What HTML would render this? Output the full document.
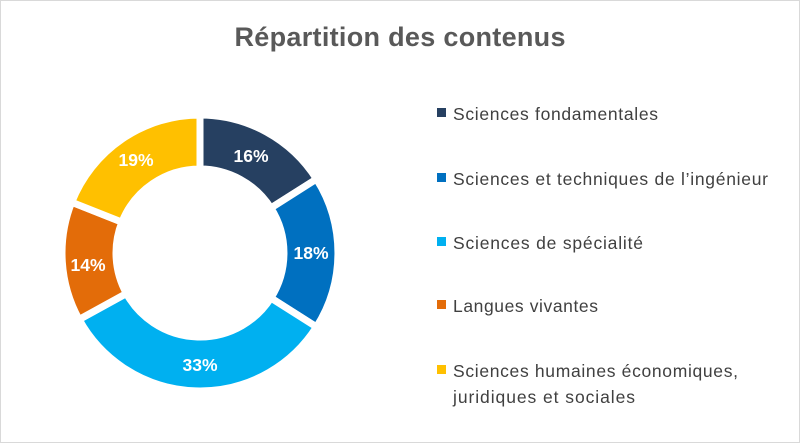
<!DOCTYPE html>
<html><head><meta charset="utf-8"><style>
body{margin:0;width:800px;height:443px;overflow:hidden;background:#fff;font-family:"Liberation Sans",sans-serif}
</style></head><body>
<svg width="800" height="443" xmlns="http://www.w3.org/2000/svg">
<rect x="0.5" y="0.5" width="799" height="442" fill="#fff" stroke="#d9d9d9"/>
<text x="400" y="46" text-anchor="middle" font-size="27" font-weight="bold" fill="#595959" textLength="331" font-family="Liberation Sans, sans-serif">Répartition des contenus</text>
<g stroke="#fff" stroke-width="7" stroke-linejoin="miter">
<path d="M200,115 A138,138 0 0 1 316.5,179.1 L270.9,208 A84,84 0 0 0 200,169 Z" fill="#264061"/>
<path d="M316.5,179.1 A138,138 0 0 1 316.5,326.9 L270.9,298 A84,84 0 0 0 270.9,208 Z" fill="#0070c0"/>
<path d="M316.5,326.9 A138,138 0 0 1 79.1,319.5 L126.4,293.5 A84,84 0 0 0 270.9,298 Z" fill="#00b0f0"/>
<path d="M79.1,319.5 A138,138 0 0 1 71.7,202.2 L121.9,222.1 A84,84 0 0 0 126.4,293.5 Z" fill="#e36c09"/>
<path d="M71.7,202.2 A138,138 0 0 1 200,115 L200,169 A84,84 0 0 0 121.9,222.1 Z" fill="#ffc000"/>
</g>
<g font-size="17.5" font-weight="bold" fill="#fff" text-anchor="middle" font-family="Liberation Sans, sans-serif">
<text x="251" y="162">16%</text>
<text x="311" y="259">18%</text>
<text x="200" y="371">33%</text>
<text x="88" y="271">14%</text>
<text x="136" y="166">19%</text>
</g>
<g font-size="17.5" fill="#404040" font-family="Liberation Sans, sans-serif">
<rect x="437" y="108" width="9" height="9" fill="#264061"/><text x="453" y="120" textLength="205">Sciences fondamentales</text>
<rect x="437" y="173" width="9" height="9" fill="#0070c0"/><text x="453" y="185" textLength="315">Sciences et techniques de l’ingénieur</text>
<rect x="437" y="237" width="9" height="9" fill="#00b0f0"/><text x="453" y="249" textLength="190">Sciences de spécialité</text>
<rect x="437" y="300" width="9" height="9" fill="#e36c09"/><text x="453" y="312" textLength="145">Langues vivantes</text>
<rect x="437" y="365" width="9" height="9" fill="#ffc000"/><text x="453" y="377" textLength="285">Sciences humaines économiques,</text>
<text x="453" y="403" textLength="182">juridiques et sociales</text>
</g>
</svg>
</body></html>
